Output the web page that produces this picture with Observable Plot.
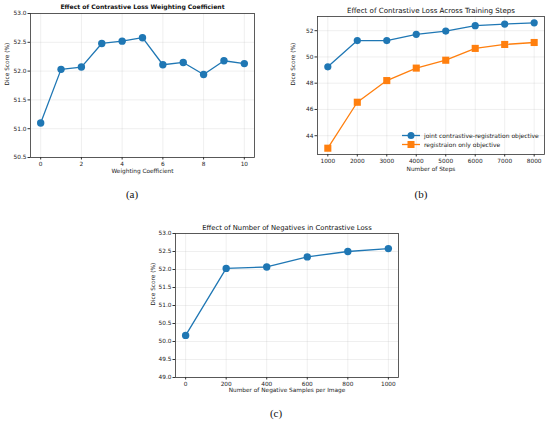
<!DOCTYPE html>
<html>
<head>
<meta charset="utf-8">
<script src="https://cdn.jsdelivr.net/npm/d3@7"></script>
<script src="https://cdn.jsdelivr.net/npm/@observablehq/plot@0.6"></script>
<style>
  html, body { margin: 0; padding: 0; background: #fff; }
  #page { position: relative; width: 550px; height: 423px; overflow: hidden; font-family: "DejaVu Sans", sans-serif; }
  .panel { position: absolute; }
  .panel svg { overflow: visible; }
  .cap { position: absolute; font-family: "Liberation Serif", "DejaVu Serif", serif; font-size: 11px; color: #111; transform: translate(-50%, -50%); }
  .legend { position: absolute; font-size: 6px; color: #222; line-height: 9px; }
  .legend div { display: flex; align-items: center; height: 9px; }
  .legend svg { margin-right: 3px; }
</style>
</head>
<body>
<div id="page">
  <div class="panel" id="pa" style="left:0px;top:0px"></div>
  <div class="panel" id="pb" style="left:275px;top:0px"></div>
  <div class="panel" id="pc" style="left:130px;top:210px"></div>
  <div class="cap" style="left:132px;top:194px">(a)</div>
  <div class="cap" style="left:421px;top:194px">(b)</div>
  <div class="cap" style="left:276px;top:413px">(c)</div>
  <div class="legend" style="left:401px;top:130.5px">
    <div><svg width="20" height="9"><line x1="1" x2="19" y1="4.5" y2="4.5" stroke="#1f77b4" stroke-width="1.3"/><circle cx="10" cy="4.5" r="3.5" fill="#1f77b4"/></svg>joint contrastive-registration objective</div>
    <div><svg width="20" height="9"><line x1="1" x2="19" y1="4.5" y2="4.5" stroke="#ff7f0e" stroke-width="1.3"/><rect x="6.5" y="1" width="7" height="7" fill="#ff7f0e"/></svg>registraion only objective</div>
  </div>
</div>
<script>
// ---- Data ----
const weightCoef = [0, 1, 2, 3, 4, 5, 6, 7, 8, 9, 10];
const weightDice = [51.10, 52.03, 52.07, 52.48, 52.52, 52.58, 52.11, 52.15, 51.94, 52.18, 52.13];

const steps = [1000, 2000, 3000, 4000, 5000, 6000, 7000, 8000];
const jointDice = [49.25, 51.25, 51.25, 51.72, 51.97, 52.38, 52.50, 52.60];
const regOnlyDice = [43.05, 46.55, 48.20, 49.15, 49.75, 50.65, 50.95, 51.10];

const negatives = [0, 200, 400, 600, 800, 1000];
const negDice = [50.17, 52.03, 52.07, 52.35, 52.50, 52.58];

const ticksA_x = [0, 2, 4, 6, 8, 10];
const ticksA_y = [50.5, 51.0, 51.5, 52.0, 52.5, 53.0];
const ticksB_x = [1000, 2000, 3000, 4000, 5000, 6000, 7000, 8000];
const ticksB_y = [44, 46, 48, 50, 52];
const ticksC_x = [0, 200, 400, 600, 800, 1000];
const ticksC_y = [49.0, 49.5, 50.0, 50.5, 51.0, 51.5, 52.0, 52.5, 53.0];

const BLUE = "#1f77b4", ORANGE = "#ff7f0e";
const fmt1 = d3.format(".1f");
const fmtInt = d3.format("d");

function panel(opts) {
  const {width, height, margins, xDomain, yDomain, xTicks, yTicks, xFmt, yFmt, title, titleSize, xLabel, yLabel, yLabelDx, xLabelDy, titleDy, titleWeight, marks} = opts;
  return Plot.plot({
    width, height,
    marginLeft: margins[0], marginRight: margins[1], marginTop: margins[2], marginBottom: margins[3],
    style: {fontFamily: "DejaVu Sans, sans-serif", fontSize: "5.8px", color: "#222", background: "transparent", overflow: "visible"},
    x: {domain: xDomain},
    y: {domain: yDomain},
    marks: [
      Plot.gridX(xTicks, {stroke: "#b0b0b0", strokeOpacity: 0.35, strokeWidth: 0.6}),
      Plot.gridY(yTicks, {stroke: "#b0b0b0", strokeOpacity: 0.35, strokeWidth: 0.6}),
      Plot.axisX({ticks: xTicks, tickSize: 2.5, tickPadding: 1.5, label: null, tickFormat: xFmt, stroke: "#333"}),
      Plot.axisY({ticks: yTicks, tickSize: 2.5, tickPadding: 1.5, label: null, tickFormat: yFmt, stroke: "#333"}),
      ...marks,
      Plot.frame({stroke: "#333", strokeWidth: 0.8}),
      Plot.text([title], {frameAnchor: "top", dy: titleDy, fontSize: titleSize, fontWeight: titleWeight, fill: "#111", lineAnchor: "middle"}),
      Plot.text([xLabel], {frameAnchor: "bottom", dy: xLabelDy, fontSize: 5.8, fill: "#222", lineAnchor: "middle"}),
      Plot.text([yLabel], {frameAnchor: "left", dx: yLabelDx, rotate: -90, fontSize: 5.8, fill: "#222", lineAnchor: "middle"})
    ]
  });
}

const dataA = weightCoef.map((x, i) => ({x, y: weightDice[i]}));
document.getElementById("pa").appendChild(panel({
  width: 265, height: 185, margins: [30, 11, 13, 28],
  xDomain: [-0.5, 10.5], yDomain: [50.5, 53.0],
  xTicks: ticksA_x, yTicks: ticksA_y, xFmt: fmtInt, yFmt: fmt1,
  title: "Effect of Contrastive Loss Weighting Coefficient", titleSize: 6.1, titleDy: -6, titleWeight: "bold",
  xLabel: "Weighting Coefficient", xLabelDy: 14,
  yLabel: "Dice Score (%)", yLabelDx: -23,
  marks: [
    Plot.line(dataA, {x: "x", y: "y", stroke: BLUE, strokeWidth: 1.3}),
    Plot.dot(dataA, {x: "x", y: "y", r: 3.7, fill: BLUE})
  ]
}));

const dataB1 = steps.map((x, i) => ({x, y: jointDice[i]}));
const dataB2 = steps.map((x, i) => ({x, y: regOnlyDice[i]}));
document.getElementById("pb").appendChild(panel({
  width: 275, height: 185, margins: [42, 6, 16, 31],
  xDomain: [650, 8350], yDomain: [42.57, 53.08],
  xTicks: ticksB_x, yTicks: ticksB_y, xFmt: fmtInt, yFmt: fmtInt,
  title: "Effect of Contrastive Loss Across Training Steps", titleSize: 7.1, titleDy: -6, titleWeight: "normal",
  xLabel: "Number of Steps", xLabelDy: 15,
  yLabel: "Dice Score (%)", yLabelDx: -24,
  marks: [
    Plot.line(dataB1, {x: "x", y: "y", stroke: BLUE, strokeWidth: 1.3}),
    Plot.dot(dataB1, {x: "x", y: "y", r: 3.6, fill: BLUE}),
    Plot.line(dataB2, {x: "x", y: "y", stroke: ORANGE, strokeWidth: 1.3}),
    Plot.dot(dataB2, {x: "x", y: "y", r: 4.0, symbol: "square", fill: ORANGE})
  ]
}));

const dataC = negatives.map((x, i) => ({x, y: negDice[i]}));
document.getElementById("pc").appendChild(panel({
  width: 290, height: 200, margins: [45, 22, 23, 33],
  xDomain: [-50, 1050], yDomain: [49.0, 53.0],
  xTicks: ticksC_x, yTicks: ticksC_y, xFmt: fmtInt, yFmt: fmt1,
  title: "Effect of Number of Negatives in Contrastive Loss", titleSize: 6.8, titleDy: -6, titleWeight: "normal",
  xLabel: "Number of Negative Samples per Image", xLabelDy: 13,
  yLabel: "Dice Score (%)", yLabelDx: -22,
  marks: [
    Plot.line(dataC, {x: "x", y: "y", stroke: BLUE, strokeWidth: 1.3}),
    Plot.dot(dataC, {x: "x", y: "y", r: 3.7, fill: BLUE})
  ]
}));
</script>
</body>
</html>
